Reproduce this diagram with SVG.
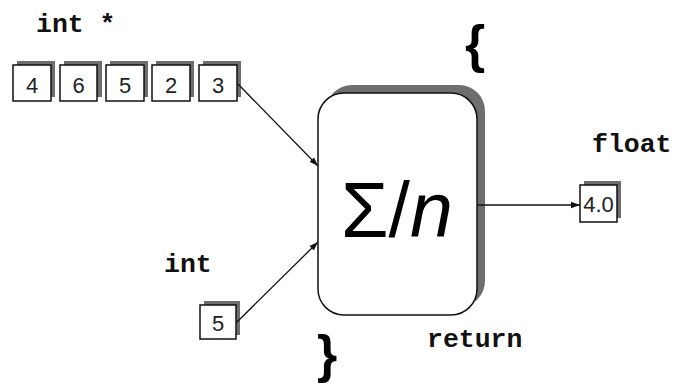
<svg xmlns="http://www.w3.org/2000/svg" width="679" height="386" viewBox="0 0 679 386">
<style>
.lbl{font-family:"Liberation Mono","Courier New",monospace;font-weight:bold;font-size:26.5px;fill:#111}
.val{font-family:"Liberation Sans",Arial,sans-serif;font-size:22px;fill:#222;text-anchor:middle}
.brace{font-family:"Liberation Sans",Arial,sans-serif;font-weight:bold;font-size:52px;fill:#000}
.box{fill:#fff;stroke:#111;stroke-width:1.5}
.shd{fill:#6e6e6e}
.conn{stroke:#111;stroke-width:1.3;fill:none}
</style>
<defs>
<marker id="ah" viewBox="0 0 10 10" refX="10" refY="5" markerWidth="9" markerHeight="9" markerUnits="userSpaceOnUse" orient="auto">
<path d="M0,1.5 L10,5 L0,8.5 Z" fill="#111"/>
</marker>
</defs>
<rect width="679" height="386" fill="#fff"/>
<text class="lbl" x="36" y="32">int *</text>
<text class="lbl" x="592" y="152">float</text>
<text class="lbl" x="164" y="272">int</text>
<text class="lbl" x="427" y="347">return</text>
<text class="brace" x="465" y="62">{</text>
<text class="brace" x="317" y="372">}</text>
<g id="arr0"><rect class="shd" x="17" y="61" width="38" height="36"/><rect class="box" x="13" y="65" width="38" height="36"/><text class="val" x="32" y="93">4</text></g>
<g id="arr1"><rect class="shd" x="64" y="61" width="38" height="36"/><rect class="box" x="60" y="65" width="37" height="36"/><text class="val" x="78.5" y="93">6</text></g>
<g id="arr2"><rect class="shd" x="110" y="61" width="38" height="36"/><rect class="box" x="106" y="65" width="38" height="36"/><text class="val" x="125" y="93">5</text></g>
<g id="arr3"><rect class="shd" x="156" y="61" width="38" height="36"/><rect class="box" x="152" y="65" width="38" height="36"/><text class="val" x="171" y="93">2</text></g>
<g id="arr4"><rect class="shd" x="203" y="61" width="38" height="36"/><rect class="box" x="199" y="65" width="38" height="36"/><text class="val" x="218" y="93">3</text></g>
<g id="n"><rect class="shd" x="204" y="301" width="36" height="34"/><rect class="box" x="200" y="305" width="36" height="34"/><text class="val" x="218" y="331">5</text></g>
<g id="func"><rect class="shd" x="326" y="85" width="159" height="222" rx="26"/><rect class="box" x="318" y="93" width="159" height="222" rx="26"/><text x="341" y="237" font-family="Liberation Sans,Arial,sans-serif" font-size="77" fill="#000">Σ/<tspan font-style="italic">n</tspan></text></g>
<g id="result"><rect class="shd" x="584" y="181" width="37" height="37"/><rect class="box" x="580" y="185" width="37" height="37"/><text class="val" x="598.5" y="212">4.0</text></g>
<g id="connectors">
<line class="conn" x1="238" y1="84" x2="318" y2="166" marker-end="url(#ah)"/>
<line class="conn" x1="237" y1="322" x2="318" y2="242" marker-end="url(#ah)"/>
<line class="conn" x1="478" y1="205" x2="580" y2="205" marker-end="url(#ah)"/>
</g>
</svg>
